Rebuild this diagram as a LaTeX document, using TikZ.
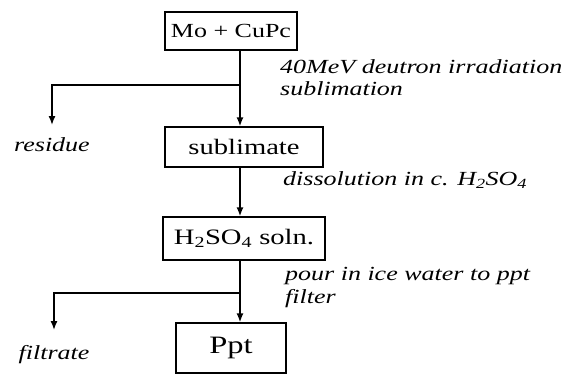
\documentclass[tikz,border=0pt]{standalone}
\usepackage{fontspec}
\setmainfont{Liberation Serif}[FakeStretch=1.3, ItalicFont={Liberation Serif Italic}]
\usetikzlibrary{arrows.meta}
\tikzset{
  stepbox/.style={draw, line width=1.4pt, inner sep=0pt, font=\fontsize{22}{24}\selectfont},
  note/.style={anchor=base west, inner sep=0pt, font=\fontsize{20}{22}\selectfont\itshape},
  waste/.style={anchor=north, inner sep=0pt, font=\fontsize{20}{22}\selectfont\itshape},
  flow/.style={line width=1.4pt, -{Latex[length=9pt,width=7pt]}},
}
\begin{document}
\begin{tikzpicture}[x=1pt,y=1pt]
  \useasboundingbox (0,0) rectangle (574,-375);
  \coordinate (trunk) at (240,0);

  \node[stepbox, minimum width=132pt, minimum height=38pt] (mo) at (231,-31) {\fontsize{20}{22}\selectfont Mo + CuPc};
  \node[stepbox, minimum width=158pt, minimum height=40pt] (sub) at (244,-147) {sublimate};
  \node[stepbox, minimum width=162pt, minimum height=43pt] (sol) at (244,-238.5) {H\textsubscript{2}SO\textsubscript{4} soln.};
  \node[stepbox, minimum width=110pt, minimum height=50pt] (ppt) at (231,-348) {\fontsize{25}{27}\selectfont Ppt};

  \node[waste] (res) at (52,-137) {residue};
  \node[waste] (fil) at (54,-345) {filtrate};

  \coordinate (j1) at (240,-85);
  \coordinate (j2) at (240,-293);

  \draw[flow] (mo.south -| trunk) -- (sub.north -| trunk);
  \draw[flow, shorten >=12pt] (j1) -| (res.north);
  \draw[flow] (sub.south -| trunk) -- (sol.north -| trunk);
  \draw[flow] (sol.south -| trunk) -- (ppt.north -| trunk);
  \draw[flow, shorten >=15pt] (j2) -| (fil.north);

  \node[note] (n1) at (280,-73) {40MeV deutron irradiation};
  \node[note] (n2) at (280,-95) {sublimation};
  \node[note] (n3) at (283,-185) {dissolution in c. H\textsubscript{2}SO\textsubscript{4}};
  \node[note] (n4) at (285,-280) {pour in ice water to ppt};
  \node[note] (n5) at (285,-303) {filter};
\end{tikzpicture}
\end{document}
